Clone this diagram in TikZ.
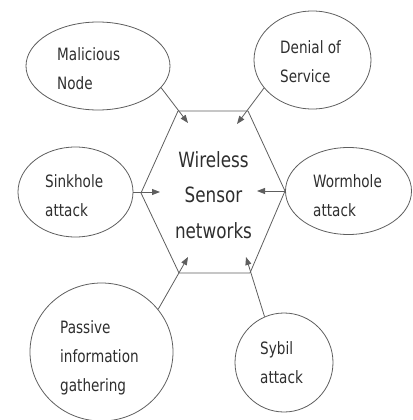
\documentclass[tikz,border=0pt]{standalone}
\usepackage{fontspec}
\setmainfont{DejaVu Sans}[FakeStretch=0.8]
\usetikzlibrary{shapes.geometric,arrows.meta}
\definecolor{ink}{HTML}{2E2E2E}
\definecolor{edge}{HTML}{5E5E5E}
\tikzset{
  bubble/.style={ellipse, draw=edge, line width=0.8pt, inner sep=0pt},
  % multi-line text: the base anchor sits on the last line's baseline
  caption/.style={text=ink, align=left, anchor=base west, inner sep=0pt,
                  font=\fontsize{17}{29}\selectfont},
  attack/.style={draw=edge, line width=0.8pt, -{Triangle[length=8pt,width=6pt]}},
  hexline/.style={draw=edge, line width=0.8pt, line join=round},
}
\begin{document}
\begin{tikzpicture}[x=1pt, y=-1pt]
\useasboundingbox (0,0) rectangle (412,420);

% central hexagon
\coordinate (h1) at (178,111);
\coordinate (h2) at (248,111);
\coordinate (h3) at (285,191);
\coordinate (h4) at (250,273);
\coordinate (h5) at (179,273);
\coordinate (h6) at (141,193);
\draw[hexline] (h1) -- (h2) -- (h3) -- (h4) -- (h5) -- (h6) -- cycle;
\node (wsn) [text=ink, align=center, anchor=base, inner sep=0pt,
             font=\fontsize{21}{35.5}\selectfont] at (213.5,238)
  {Wireless\\Sensor\\networks};

% surrounding threats
\node (mal)  [bubble, minimum width=144pt, minimum height=88pt]  at (98,66) {};
\node (dos)  [bubble, minimum width=117pt, minimum height=98pt]  at (312.5,60) {};
\node (sink) [bubble, minimum width=115pt, minimum height=90pt]  at (75.5,192) {};
\node (worm) [bubble, minimum width=126pt, minimum height=87pt]  at (348.5,191) {};
\node (pas)  [bubble, minimum width=143pt, minimum height=138pt] at (101.5,352) {};
\node (syb)  [bubble, minimum width=98pt,  minimum height=99pt]  at (284,362.5) {};

\node (tmal)  [caption] at (57,89)  {Malicious\\Node};
\node (tdos)  [caption] at (280,82) {Denial of\\Service};
\node (tsink) [caption] at (45,216) {Sinkhole\\attack};
\node (tworm) [caption] at (313,216) {Wormhole\\attack};
\node (tpas)  [caption] at (60,391) {Passive\\information\\gathering};
\node (tsyb)  [caption] at (260,383) {Sybil\\attack};

% arrow tips inside the hexagon
\coordinate (amal)  at (188,123);
\coordinate (ados)  at (237,124);
\coordinate (asink) at (160,192);
\coordinate (aworm) at (257,191);
\coordinate (apas)  at (188,257);
\coordinate (asyb)  at (246,257);

\draw[attack] (mal.-19)    -- (amal);
\draw[attack] (dos.-150.5) -- (ados);
\draw[attack] (sink.0)     -- (asink);
\draw[attack] (worm.180)   -- (aworm);
\draw[attack] (pas.37.5)   -- (apas);
\draw[attack] (syb.113.9)  -- (asyb);
\end{tikzpicture}
\end{document}
